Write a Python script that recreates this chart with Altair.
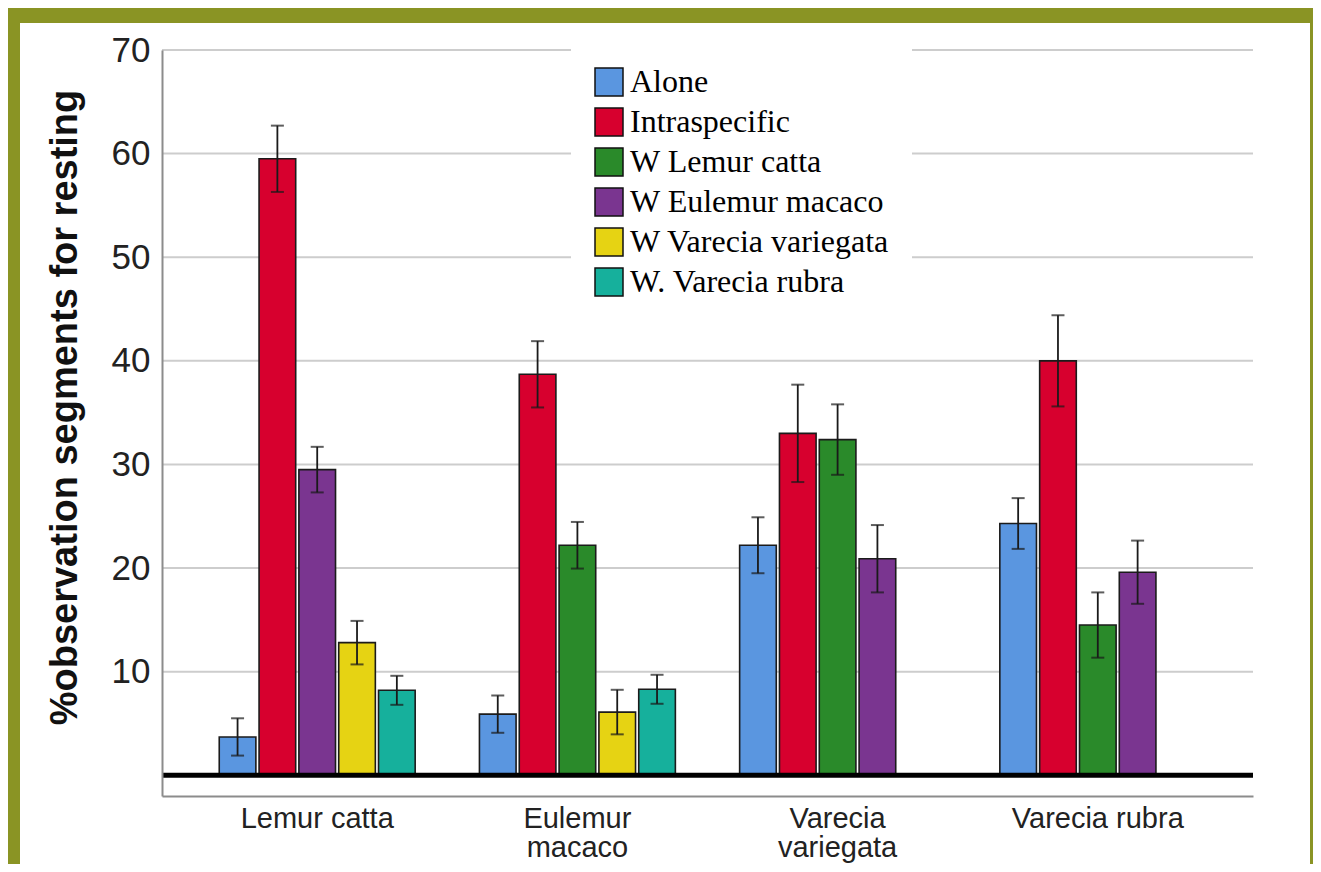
import altair as alt
import pandas as pd

groups = ["Lemur catta", "Eulemur macaco", "Varecia variegata", "Varecia rubra"]
series = ["Alone", "Intraspecific", "W Lemur catta", "W Eulemur macaco",
          "W Varecia variegata", "W. Varecia rubra"]
colors = ["#5a96e0", "#d7002e", "#2a8a2a", "#7a3590", "#e6d313", "#16b09c"]

# mean % of observation segments for resting (None = not applicable)
alone = [3.7, 5.9, 22.2, 24.3]
intraspecific = [59.5, 38.7, 33.0, 40.0]
w_lemur_catta = [None, 22.2, 32.4, 14.5]
w_eulemur_macaco = [29.5, None, 20.9, 19.6]
w_varecia_variegata = [12.8, 6.1, None, None]
w_varecia_rubra = [8.2, 8.3, None, None]

# error bar half-widths
alone_err = [1.8, 1.8, 2.7, 2.45]
intraspecific_err = [3.2, 3.2, 4.7, 4.4]
w_lemur_catta_err = [None, 2.25, 3.4, 3.15]
w_eulemur_macaco_err = [2.2, None, 3.25, 3.05]
w_varecia_variegata_err = [2.1, 2.15, None, None]
w_varecia_rubra_err = [1.4, 1.4, None, None]

y_ticks = [10, 20, 30, 40, 50, 60, 70]

means = [alone, intraspecific, w_lemur_catta, w_eulemur_macaco,
         w_varecia_variegata, w_varecia_rubra]
errs = [alone_err, intraspecific_err, w_lemur_catta_err, w_eulemur_macaco_err,
        w_varecia_variegata_err, w_varecia_rubra_err]

rows = []
for gi, g in enumerate(groups):
    slot = 0
    for si, s in enumerate(series):
        v = means[si][gi]
        if v is None:
            continue
        e = errs[si][gi]
        rows.append({"group": g, "series": s, "value": v,
                     "lo": v - e, "hi": v + e, "slot": slot})
        slot += 1
df = pd.DataFrame(rows)

yscale = alt.Scale(domain=[-2.0, 70], nice=False, zero=False)
xscale = alt.Scale(domain=groups, paddingInner=0.247, paddingOuter=0.22)
oscale = alt.Scale(paddingInner=0.08, paddingOuter=0)

x_axis = alt.Axis(title=None, ticks=False, domainColor="#8c8c8c", domainWidth=2,
                  labelFont="Liberation Sans", labelFontSize=29, labelColor="#222",
                  labelPadding=8, labelAngle=0, labelLineHeight=29, labelLimit=400,
                  labelExpr="length(datum.label) > 13 ? split(datum.label, ' ') : datum.label",
                  grid=False, zindex=1)
y_axis = alt.Axis(values=y_ticks, grid=False, ticks=False, domainColor="#8c8c8c",
                  domainWidth=2, labelFont="Liberation Sans", labelFontSize=35,
                  labelColor="#222", labelPadding=12,
                  title="%observation segments for resting",
                  titleFont="Liberation Sans", titleFontSize=38, titleFontWeight="bold",
                  titleColor="#111", titleAngle=270, titleX=-97, titleY=357,
                  titleAlign="center", titleBaseline="middle", zindex=1)

bg = alt.Chart(pd.DataFrame({"k": [0]})).mark_rect(color="white").encode(
    x=alt.value(-142), x2=alt.value(1148), y=alt.value(-27), y2=alt.value(900))

grid = alt.Chart(pd.DataFrame({"t": y_ticks})).mark_rule(
    color="#cdcdcd", strokeWidth=2).encode(
    y=alt.Y("t:Q", scale=yscale, axis=y_axis))

base = alt.Chart(df)

X = alt.X("group:N", sort=groups, scale=xscale, axis=x_axis)
XO = alt.XOffset("slot:O", scale=oscale)

bars = base.mark_bar(stroke="#1b1b1b", strokeWidth=1.6).encode(
    x=X,
    xOffset=XO,
    y=alt.Y("value:Q", scale=yscale, axis=y_axis, stack=None),
    color=alt.Color("series:N", scale=alt.Scale(domain=series, range=colors),
                    legend=alt.Legend(title=None, orient="none", legendX=409, legendY=-6,
                                      symbolType="square", symbolSize=784,
                                      symbolStrokeColor="#111", symbolStrokeWidth=1.5,
                                      labelFont="Liberation Serif", labelFontSize=32,
                                      labelColor="#000", labelOffset=5, rowPadding=6,
                                      padding=22, fillColor="white", labelLimit=500)),
)

err = base.mark_rule(color="#1a1a1a", strokeWidth=1.8).encode(
    x=X, xOffset=XO,
    y=alt.Y("lo:Q", scale=yscale, axis=y_axis),
    y2="hi:Q",
)
cap_lo = base.mark_tick(color="#1a1a1a", size=13, thickness=2).encode(
    x=X, xOffset=XO,
    y=alt.Y("lo:Q", scale=yscale, axis=y_axis),
)
cap_hi = base.mark_tick(color="#1a1a1a", size=13, thickness=2).encode(
    x=X, xOffset=XO,
    y=alt.Y("hi:Q", scale=yscale, axis=y_axis),
)

zero_line = alt.Chart(pd.DataFrame({"z": [0]})).mark_rule(
    color="black", strokeWidth=5).encode(y=alt.Y("z:Q", scale=yscale, axis=y_axis))

chart = alt.layer(bg, grid, bars, err, cap_lo, cap_hi, zero_line).properties(
    width=1091, height=746, background="#8a9424",
    autosize=alt.AutoSizeParams(type="none"),
    padding={"left": 154, "top": 42, "right": 60, "bottom": 68},
).configure_view(strokeWidth=0)

chart.save("out.html", embed_options={"renderer": "svg", "actions": False})
